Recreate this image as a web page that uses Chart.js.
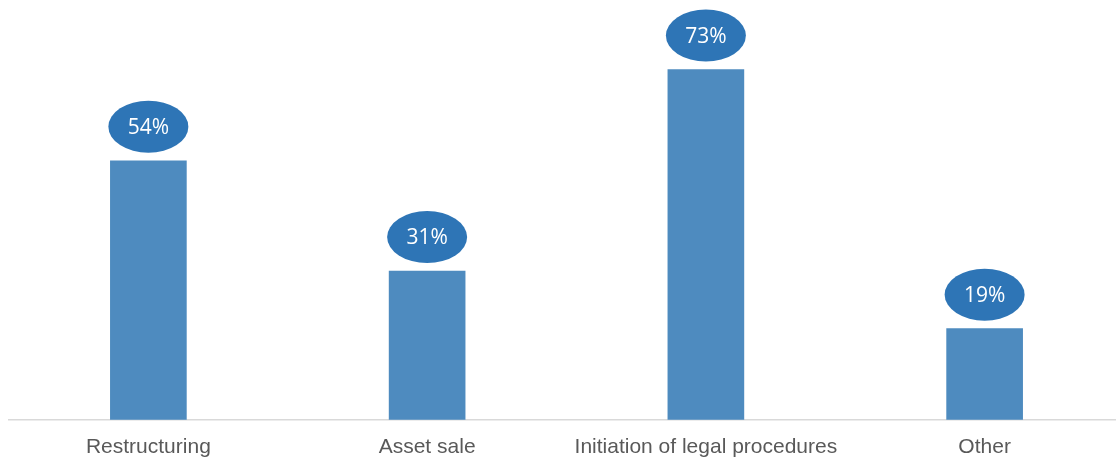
<!DOCTYPE html>
<html>
<head>
<meta charset="utf-8">
<script src="https://cdn.jsdelivr.net/npm/chart.js@4/dist/chart.umd.min.js"></script>
<style>
  html, body { margin: 0; padding: 0; background: #fff; overflow: hidden; }
  .wrap { width: 1124px; height: 468px; position: relative; }
</style>
</head>
<body>
<div class="wrap"><canvas id="chart"></canvas></div>
<script>
"use strict";
const categories = ["Restructuring", "Asset sale", "Initiation of legal procedures", "Other"];
const shares = [54, 31, 73, 19];

// oval value badges above each bar
const bubbleLabels = {
  id: "bubbleLabels",
  afterDatasetsDraw(chart) {
    const ctx = chart.ctx;
    const meta = chart.getDatasetMeta(0);
    ctx.save();
    meta.data.forEach((bar, i) => {
      const cx = bar.x;
      const cy = bar.y - 34;
      ctx.beginPath();
      ctx.ellipse(cx, cy, 40, 26, 0, 0, Math.PI * 2);
      ctx.fillStyle = "#2E75B6";
      ctx.fill();
      ctx.fillStyle = "#ffffff";
      ctx.font = "21px 'Open Sans', sans-serif";
      ctx.textAlign = "center";
      ctx.textBaseline = "middle";
      ctx.fillText(shares[i] + "%", cx, cy + 1);
    });
    ctx.restore();
  },
};

new Chart(document.querySelector("#chart").getContext("2d"), {
  type: "bar",
  data: {
    labels: categories,
    datasets: [
      {
        data: shares,
        backgroundColor: "#4E8BBF",
        barThickness: 76,
      },
    ],
  },
  options: {
    responsive: true,
    maintainAspectRatio: false,
    animation: false,
    layout: { padding: { left: 9, right: 0, top: 36, bottom: 1 } },
    plugins: {
      legend: { display: false },
      tooltip: { enabled: false },
    },
    scales: {
      x: {
        grid: { display: false },
        border: { display: true, color: "#D9D9D9", width: 1.5 },
        ticks: {
          color: "#595959",
          font: { family: "'Liberation Sans', Arial, sans-serif", size: 21 },
          padding: 7,
          maxRotation: 0,
        },
      },
      y: {
        display: false,
        min: 0,
        max: 80,
      },
    },
  },
  plugins: [bubbleLabels],
});
</script>
</body>
</html>
